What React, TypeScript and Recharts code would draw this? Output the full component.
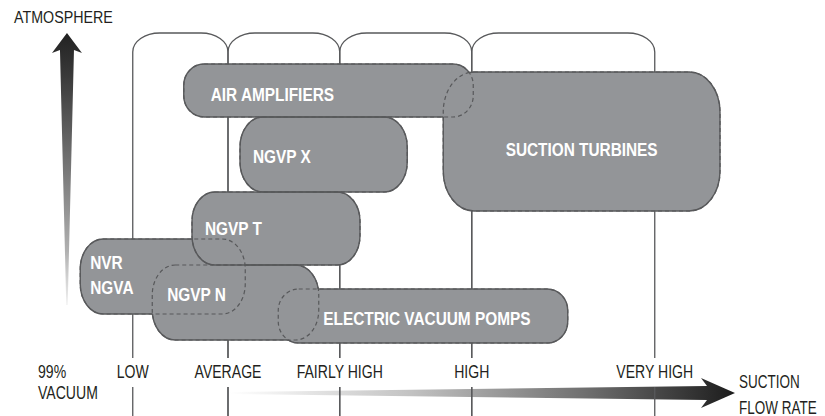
import { ComposedChart, XAxis, YAxis, ReferenceArea } from 'recharts'

// flow-rate scale (arbitrary 0-100 units along the bottom)
const FLOW_LABELS = ['LOW', 'AVERAGE', 'FAIRLY HIGH', 'HIGH', 'VERY HIGH']
const FLOW_TICKS = [13.7, 26.4, 41.3, 58.9, 83.3]
const LANE_TOP = 95.75

// vacuum scale: 0 = 99% vacuum, 100 = atmosphere
const VACUUM_TICKS = [0, 100]
const VACUUM_LABELS = [['99%', 'VACUUM'], ['ATMOSPHERE']]
const FLOW_TITLE = ['SUCTION', 'FLOW RATE']

const PRODUCTS = [
  ['AIR AMPLIFIERS'],
  ['SUCTION TURBINES'],
  ['NGVP X'],
  ['NVR', 'NGVA'],
  ['NGVP N'],
  ['ELECTRIC VACUUM POMPS'],
  ['NGVP T'],
]
const FLOW_MIN = [20.5, 55.1, 28.0, 6.7, 16.3, 33.1, 21.6]
const FLOW_MAX = [59.1, 92.0, 50.3, 28.7, 38.5, 71.7, 44.0]
const VAC_MIN = [74.75, 51.25, 56.0, 25.5, 19.0, 18.25, 37.75]
const VAC_MAX = [88.0, 86.0, 74.75, 44.25, 37.75, 31.75, 56.0]
// outline goes dashed where it runs inside these other products
const HIDDEN_BY = [[1], [0], [], [6, 4], [3, 5], [4], []]

// arrow extents in chart units
const V_ARROW = { x1: 2.93, x2: 6.93, y1: 27.75, y2: 95.75 }
const H_ARROW = { x1: 26.67, x2: 94.0, y1: 2.0, y2: 9.5 }

// label placement inside each capsule: dx from left (or 'c' centered), dy from middle
const LABEL_POS: { dx: number | 'c'; dy: number }[] = [
  { dx: 27, dy: 3 },
  { dx: 'c', dy: 7 },
  { dx: 13, dy: 1 },
  { dx: 10, dy: -2 },
  { dx: 15, dy: -9 },
  { dx: 45, dy: 2 },
  { dx: 13, dy: -1 },
]

const FONT = "'Liberation Sans', Arial, Helvetica, sans-serif"
const FILL = '#939598'
const STROKE = '#58595b'
const INK = '#231f20'

// Helvetica-condensed look: regular sans squeezed horizontally
function CText({ x, y, lines, size = 19, squeeze = 0.74, bold = false, anchor = 'start', fill = INK, gap = 21 }: any) {
  return (
    <text transform={`translate(${x},${y}) scale(${squeeze},1)`} textAnchor={anchor} fontFamily={FONT}
      fontSize={size} fontWeight={bold ? 'bold' : 'normal'} fill={fill}>
      {lines.map((l: string, k: number) => (
        <tspan key={k} x={0} dy={k === 0 ? 0 : gap}>{l}</tspan>
      ))}
    </text>
  )
}

function capsulePath(x: number, y: number, w: number, h: number) {
  const rx = Math.min(w / 2, 20 + (h - 50) * 0.12)
  const ry = Math.min(h / 2, h * 0.4, 40)
  return `M${x + rx},${y} H${x + w - rx} A${rx},${ry} 0 0 1 ${x + w},${y + ry} V${y + h - ry} ` +
    `A${rx},${ry} 0 0 1 ${x + w - rx},${y + h} H${x + rx} A${rx},${ry} 0 0 1 ${x},${y + h - ry} ` +
    `V${y + ry} A${rx},${ry} 0 0 1 ${x + rx},${y} Z`
}

function lanePath(x: number, y: number, w: number, h: number) {
  const rx = 27
  const ry = 19
  const b = y + h
  const g1 = b - 29
  const g2 = b - 58
  return `M${x},${b} V${g1} M${x},${g2} V${y + ry} A${rx},${ry} 0 0 1 ${x + rx},${y} ` +
    `H${x + w - rx} A${rx},${ry} 0 0 1 ${x + w},${y + ry} V${g2} M${x + w},${g1} V${b}`
}

function FlowTick(props: any) {
  const { x, y, payload } = props
  const i = FLOW_TICKS.indexOf(payload.value)
  return <CText x={x} y={y - 36} lines={[FLOW_LABELS[i]]} anchor="middle" />
}

function VacuumTick(props: any) {
  const { x, y, payload } = props
  const i = VACUUM_TICKS.indexOf(payload.value)
  if (i === 1) {
    return <CText x={x - 18} y={y + 7} lines={VACUUM_LABELS[i]} size={17} squeeze={0.84} />
  }
  return <CText x={x + 6} y={y - 38} lines={VACUUM_LABELS[i]} gap={21} />
}

function VerticalArrow(p: any) {
  const { x, y, width: w, height: h } = p
  const cx = x + w / 2
  const head = 20
  const d = `M${cx},${y} L${x + w},${y + head} L${cx + 7},${y + head - 3} L${cx + 0.7},${y + h} ` +
    `L${cx - 0.7},${y + h} L${cx - 7},${y + head - 3} L${x},${y + head} Z`
  return (
    <g>
      <defs>
        <linearGradient id="vgrad" x1="0" y1="0" x2="0" y2="1">
          <stop offset="0" stopColor="#222" />
          <stop offset="0.15" stopColor="#383838" />
          <stop offset="0.5" stopColor="#777" />
          <stop offset="0.8" stopColor="#b0b0b0" />
          <stop offset="1" stopColor="#f2f2f2" />
        </linearGradient>
      </defs>
      <path d={d} fill="url(#vgrad)" />
    </g>
  )
}

function HorizontalArrow(p: any) {
  const { x, y, width: w, height: h } = p
  const cy = y + h / 2
  const head = 34
  const hx = x + w - head
  const d = `M${x + w},${cy} L${hx},${y} L${hx + 6},${cy - 7} L${x},${cy - 1} L${x},${cy + 1} ` +
    `L${hx + 6},${cy + 7} L${hx},${y + h} Z`
  return (
    <g>
      <defs>
        <linearGradient id="hgrad" x1="0" y1="0" x2="1" y2="0">
          <stop offset="0" stopColor="#fff" />
          <stop offset="0.35" stopColor="#c4c4c4" />
          <stop offset="0.7" stopColor="#707070" />
          <stop offset="1" stopColor="#1c1c1c" />
        </linearGradient>
      </defs>
      <path d={d} fill="url(#hgrad)" />
      <CText x={x + w + 4} y={cy - 5} lines={FLOW_TITLE} gap={26} squeeze={0.71} />
    </g>
  )
}

function Lane(p: any) {
  const { x, y, width, height } = p
  return <path d={lanePath(x, y, width, height)} fill="none" stroke={STROKE} strokeWidth={1.3} />
}

function CapsuleFill(i: number) {
  return (p: any) => (
    <g>
      <defs>
        <path id={`cap-${i}`} d={capsulePath(p.x, p.y, p.width, p.height)} />
      </defs>
      <use href={`#cap-${i}`} fill={FILL} />
    </g>
  )
}

function CapsuleDashed(i: number) {
  return () => (
    <use href={`#cap-${i}`} fill="none" stroke={STROKE} strokeWidth={1.2} strokeDasharray="4 3" />
  )
}

function CapsuleSolid(i: number) {
  return () => (
    <g>
      <mask id={`mask-${i}`} maskUnits="userSpaceOnUse" x={-2000} y={-2000} width={5000} height={5000}>
        <rect x={-2000} y={-2000} width={5000} height={5000} fill="#fff" />
        {HIDDEN_BY[i].map((j) => (
          <use key={j} href={`#cap-${j}`} fill="#000" />
        ))}
      </mask>
      <use href={`#cap-${i}`} fill="none" stroke={STROKE} strokeWidth={1.4} mask={`url(#mask-${i})`} />
    </g>
  )
}

function CapsuleLabel(i: number) {
  return (p: any) => {
    const pos = LABEL_POS[i]
    const lines = PRODUCTS[i]
    const centered = pos.dx === 'c'
    const tx = centered ? p.x + p.width / 2 : p.x + (pos.dx as number)
    const cy = p.y + p.height / 2 + pos.dy
    const y0 = cy - ((lines.length - 1) * 25) / 2 + 7
    return (
      <CText x={tx} y={y0} lines={lines} bold size={19} squeeze={0.81} fill="#fff"
        anchor={centered ? 'middle' : 'start'} gap={25} />
    )
  }
}

const CHART_ROWS = PRODUCTS.map((p, i) => ({ name: p.join(' '), lo: FLOW_MIN[i], hi: VAC_MAX[i] }))

export default function App() {
  const idx = PRODUCTS.map((_, i) => i)
  return (
    <div style={{ position: 'absolute', left: 0, top: 0, background: '#fff' }}>
      <ComposedChart width={825} height={416} data={CHART_ROWS}
        margin={{ top: 16, right: 45, bottom: 0, left: 30 }}>
        <XAxis type="number" dataKey="lo" domain={[0, 100]} allowDataOverflow ticks={FLOW_TICKS}
          interval={0} mirror axisLine={false} tickLine={false} tickSize={0}
          tick={(p: any) => <FlowTick {...p} />} />
        <YAxis type="number" dataKey="hi" domain={[0, 100]} allowDataOverflow ticks={VACUUM_TICKS}
          interval={0} mirror axisLine={false} tickLine={false} tickSize={0}
          tick={(p: any) => <VacuumTick {...p} />} />

        <ReferenceArea {...V_ARROW} shape={(p: any) => <VerticalArrow {...p} />} />
        <ReferenceArea {...H_ARROW} shape={(p: any) => <HorizontalArrow {...p} />} />

        {FLOW_TICKS.slice(0, -1).map((t, i) => (
          <ReferenceArea key={`lane-${i}`} x1={t} x2={FLOW_TICKS[i + 1]} y1={0} y2={LANE_TOP}
            shape={(p: any) => <Lane {...p} />} />
        ))}

        {idx.map((i) => (
          <ReferenceArea key={`f-${i}`} x1={FLOW_MIN[i]} x2={FLOW_MAX[i]} y1={VAC_MIN[i]} y2={VAC_MAX[i]}
            shape={CapsuleFill(i)} />
        ))}
        {idx.map((i) => (
          <ReferenceArea key={`d-${i}`} x1={FLOW_MIN[i]} x2={FLOW_MAX[i]} y1={VAC_MIN[i]} y2={VAC_MAX[i]}
            shape={CapsuleDashed(i)} />
        ))}
        {idx.map((i) => (
          <ReferenceArea key={`s-${i}`} x1={FLOW_MIN[i]} x2={FLOW_MAX[i]} y1={VAC_MIN[i]} y2={VAC_MAX[i]}
            shape={CapsuleSolid(i)} />
        ))}
        {idx.map((i) => (
          <ReferenceArea key={`l-${i}`} x1={FLOW_MIN[i]} x2={FLOW_MAX[i]} y1={VAC_MIN[i]} y2={VAC_MAX[i]}
            shape={CapsuleLabel(i)} />
        ))}
      </ComposedChart>
    </div>
  )
}
